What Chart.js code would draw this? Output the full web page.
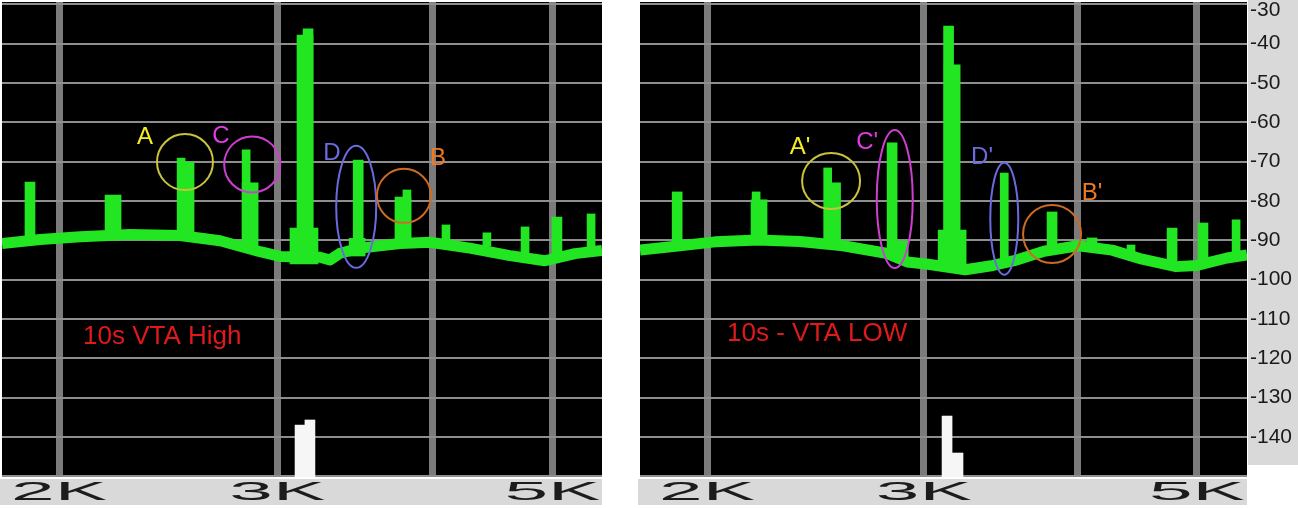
<!DOCTYPE html>
<html lang="en">
  <head>
    <meta charset="UTF-8" />
    <title>10s VTA High / 10s - VTA LOW</title>
    <script src="https://cdn.jsdelivr.net/npm/chart.js"></script>
    <style>
      body {
        margin: 0;
        background: #fff;
        width: 1298px;
        height: 508px;
        position: relative;
        overflow: hidden;
      }
      canvas {
        position: absolute;
        top: 0;
      }
      #hiChart {
        left: 0;
      }
      #loChart {
        left: 638px;
      }
    </style>
  </head>
  <body>
    <canvas id="hiChart" width="604" height="508"></canvas>
    <canvas id="loChart" width="660" height="508"></canvas>
    <script>
      // axis ticks
      const freqTicks = [2000, 3000, 4000, 5000];
      const freqLabels = ["2K", "3K", "", "5K"];
      const dbTicks = [-30, -40, -50, -60, -70, -80, -90, -100, -110, -120, -130, -140, -150];
      const dbLabels = ["-30", "-40", "-50", "-60", "-70", "-80", "-90", "-100", "-110", "-120", "-130", "-140", ""];

      // 10s VTA High (left)
      const hiFloorHz = [1799, 1931, 2080, 2282, 2504, 2697, 2905, 3015, 3247, 3308, 3370, 3499, 3767, 3983, 4289, 4621, 4931, 5213, 5482];
      const hiFloorDb = [-90.8, -89.8, -89.1, -88.5, -88.8, -90.1, -92.9, -94.1, -94.3, -95.0, -93.3, -92.0, -90.8, -90.5, -92.0, -93.9, -95.2, -93.4, -92.6];
      const hiSpikeHz = [1895, 2211, 2532, 2509, 2852, 2831, 3152, 3158, 3176, 3479, 3486, 3788, 3816, 4103, 4427, 4752, 5042, 5372];
      const hiSpikeTop = [-75.2, -78.5, -70.1, -69.1, -75.4, -67.0, -86.9, -37.8, -36.2, -89.5, -69.6, -79.0, -77.2, -86.1, -88.1, -86.6, -84.1, -83.3];
      const hiSpikeBase = [-90.0, -88.7, -88.9, -88.9, -92.0, -92.0, -96.0, -90.0, -90.0, -94.0, -92.0, -91.0, -91.0, -91.0, -91.5, -94.0, -95.0, -93.0];
      const hiSpikeKind = ["mid", "wide", "wide", "thin", "wide", "thin", "block", "wide", "mid", "wide", "mid", "wide", "thin", "thin", "thin", "thin", "mid", "thin"];
      const hiMarkHz = [3129, 3187];
      const hiMarkTop = [-137.0, -135.7];
      const hiMarkKind = ["mid", "mid"];

      // 10s - VTA LOW (right)
      const loFloorHz = [1764, 1877, 2030, 2200, 2380, 2579, 2796, 2908, 3024, 3241, 3415, 3552, 3756, 4003, 4266, 4513, 4809, 5001, 5290, 5491];
      const loFloorDb = [-92.5, -91.6, -90.4, -89.9, -90.3, -91.4, -93.3, -95.5, -96.1, -97.5, -96.4, -95.2, -92.8, -91.4, -92.5, -94.8, -96.7, -96.4, -94.5, -93.7];
      const loSpikeHz = [1891, 2204, 2192, 2529, 2506, 2870, 2827, 3163, 3163, 3142, 3487, 3813, 4109, 4420, 4773, 5057, 5380];
      const loSpikeTop = [-77.7, -79.7, -77.7, -75.4, -71.6, -90.2, -65.2, -87.4, -45.4, -35.5, -72.9, -82.8, -89.4, -91.2, -86.9, -85.6, -84.8];
      const loSpikeBase = [-91.5, -90.0, -90.0, -90.8, -90.8, -95.0, -93.0, -97.5, -90.0, -90.0, -95.0, -92.0, -92.0, -94.0, -96.0, -96.0, -94.5];
      const loSpikeKind = ["mid", "wide", "thin", "wide", "thin", "wide", "mid", "block", "wide", "mid", "thin", "mid", "mid", "thin", "mid", "mid", "thin"];
      const loMarkHz = [3133, 3180];
      const loMarkTop = [-134.7, -144.1];
      const loMarkKind = ["mid", "wide"];

      const GREEN = "#22e622";
      const barWidths = { thin: 8, mid: 10, wide: 16, block: 28 };
      const DB_MIN = -150.2;
      const DB_MAX = -29.4;

      // circled peaks, placed in Hz / dB
      const hiNotes = [
        { text: "A", labelHz: 2346, labelDb: -63.9, hz: 2527, db: -70.1, rx: 28, ry: 28, color: "#f5ef22", ring: "#c9c23c" },
        { text: "C", labelHz: 2702, labelDb: -63.6, hz: 2863, db: -70.7, rx: 28, ry: 28, color: "#e23ce2", ring: "#cf3fcf" },
        { text: "D", labelHz: 3320, labelDb: -67.8, hz: 3473, db: -81.5, rx: 20, ry: 61, color: "#6b6be0", ring: "#6b6be0" },
        { text: "B", labelHz: 4042, labelDb: -69.1, hz: 3795, db: -78.7, rx: 27, ry: 27, color: "#ee7a22", ring: "#cf6a24" },
      ];
      const loNotes = [
        { text: "A'", labelHz: 2380, labelDb: -66.3, hz: 2522, db: -74.9, rx: 29, ry: 28, color: "#f5ef22", ring: "#c9c23c" },
        { text: "C'", labelHz: 2698, labelDb: -65.2, hz: 2841, db: -79.5, rx: 18, ry: 69, color: "#e23ce2", ring: "#cf3fcf" },
        { text: "D'", labelHz: 3345, labelDb: -68.8, hz: 3487, db: -84.5, rx: 14, ry: 56, color: "#6b6be0", ring: "#6b6be0" },
        { text: "B'", labelHz: 4109, labelDb: -78.0, hz: 3813, db: -88.4, rx: 29, ry: 29, color: "#ee7a22", ring: "#cf6a24" },
      ];

      function traceDatasets(floorHz, floorDb, spikeHz, spikeTop, spikeBase, spikeKind, markHz, markTop, markKind) {
        const sets = [
          {
            type: "line",
            data: floorHz.map((f, i) => ({ x: f, y: floorDb[i] })),
            borderColor: GREEN,
            borderWidth: 11,
            borderJoinStyle: "round",
            pointRadius: 0,
            tension: 0,
            clip: 0,
          },
        ];
        Object.keys(barWidths).forEach((kind) => {
          const pts = [];
          spikeHz.forEach((f, i) => {
            if (spikeKind[i] === kind) pts.push({ x: f, y: [spikeBase[i], spikeTop[i]] });
          });
          if (pts.length)
            sets.push({ type: "bar", data: pts, backgroundColor: GREEN, barThickness: barWidths[kind], grouped: false, borderWidth: 0 });
        });
        Object.keys(barWidths).forEach((kind) => {
          const pts = [];
          markHz.forEach((f, i) => {
            if (markKind[i] === kind) pts.push({ x: f, y: [DB_MIN, markTop[i]] });
          });
          if (pts.length)
            sets.push({ type: "bar", data: pts, backgroundColor: "#f6f6f6", barThickness: barWidths[kind], grouped: false, borderWidth: 0 });
        });
        return sets;
      }

      const scopePlugin = {
        id: "scope",
        beforeDraw(chart, args, opts) {
          const { ctx, chartArea: a } = chart;
          ctx.save();
          ctx.fillStyle = "#d9d9d9";
          ctx.fillRect(a.left - 2, a.bottom + 2, a.width + 2, 26);
          if (opts.rightStrip) ctx.fillRect(a.right + 1, 0, chart.width - a.right - 1, 465);
          ctx.fillStyle = "#000";
          ctx.fillRect(a.left, a.top, a.width, a.height);
          ctx.restore();
        },
        afterDraw(chart, args, opts) {
          const { ctx, chartArea: a } = chart;
          const x = chart.scales.x;
          const y = chart.scales.y;
          ctx.save();
          // wide, squashed frequency labels
          ctx.font = '25px "Liberation Sans", Arial, sans-serif';
          ctx.fillStyle = "#1c1c1c";
          ctx.textAlign = "center";
          ctx.textBaseline = "alphabetic";
          freqTicks.forEach((v, i) => {
            const t = freqLabels[i];
            if (!t) return;
            const w = ctx.measureText(t).width;
            ctx.save();
            ctx.translate(x.getPixelForValue(v), a.bottom + 23);
            ctx.scale(96 / w, 1);
            ctx.fillText(t, 0, 0);
            ctx.restore();
          });

          // circled peaks
          ctx.lineWidth = 2;
          ctx.font = '24px "Liberation Sans", Arial, sans-serif';
          ctx.textBaseline = "middle";
          opts.notes.forEach((n) => {
            ctx.strokeStyle = n.ring;
            ctx.beginPath();
            ctx.ellipse(x.getPixelForValue(n.hz), y.getPixelForValue(n.db), n.rx, n.ry, 0, 0, Math.PI * 2);
            ctx.stroke();
            ctx.fillStyle = n.color;
            ctx.fillText(n.text, x.getPixelForValue(n.labelHz), y.getPixelForValue(n.labelDb));
          });

          // caption
          const c = opts.caption;
          ctx.font = '26px "Liberation Sans", Arial, sans-serif';
          ctx.fillStyle = "#e01a1a";
          ctx.textAlign = "left";
          ctx.fillText(c.text, x.getPixelForValue(c.hz), y.getPixelForValue(c.db));
          ctx.restore();
        },
      };

      function makeChart(id, xMin, xMax, datasets, notes, caption, withAxis) {
        return new Chart(document.getElementById(id), {
          type: "bar",
          data: { datasets: datasets },
          options: {
            responsive: false,
            animation: false,
            devicePixelRatio: 1,
            layout: { padding: { left: 2, top: 2, right: withAxis ? 0 : 2, bottom: 0 } },
            plugins: {
              legend: { display: false },
              tooltip: { enabled: false },
              scope: { notes: notes, caption: caption, rightStrip: withAxis },
            },
            scales: {
              x: {
                type: "logarithmic",
                min: xMin,
                max: xMax,
                offset: false,
                afterBuildTicks: (s) => {
                  s.ticks = freqTicks.map((v) => ({ value: v }));
                },
                afterFit: (s) => {
                  s.height = 31;
                },
                ticks: { display: false },
                grid: { color: "#7b7b7b", lineWidth: 7, drawTicks: false, offset: false },
                border: { display: false },
              },
              y: {
                type: "linear",
                position: withAxis ? "right" : "left",
                min: DB_MIN,
                max: DB_MAX,
                afterBuildTicks: (s) => {
                  s.ticks = dbTicks.map((v) => ({ value: v }));
                },
                afterFit: (s) => {
                  s.width = withAxis ? 51 : 0;
                  s.paddingTop = 0;
                  s.paddingBottom = 0;
                },
                ticks: {
                  display: withAxis,
                  padding: 3,
                  color: "#1a1a1a",
                  font: { family: '"Liberation Sans", Arial, sans-serif', size: 21, lineHeight: 0.55 },
                  // top label sits a little below its grid line, like the analyser does
                  callback: (v, i) => (i === 0 ? ["", dbLabels[i]] : dbLabels[i]),
                },
                grid: { color: "#8e8e8e", lineWidth: 2, drawTicks: false },
                border: { display: false },
              },
            },
          },
          plugins: [scopePlugin],
        });
      }

      makeChart(
        "hiChart",
        1799,
        5482,
        traceDatasets(hiFloorHz, hiFloorDb, hiSpikeHz, hiSpikeTop, hiSpikeBase, hiSpikeKind, hiMarkHz, hiMarkTop, hiMarkKind),
        hiNotes,
        { text: "10s VTA High", hz: 2091, db: -114.6 },
        false
      );

      makeChart(
        "loChart",
        1764,
        5491,
        traceDatasets(loFloorHz, loFloorDb, loSpikeHz, loSpikeTop, loSpikeBase, loSpikeKind, loMarkHz, loMarkTop, loMarkKind),
        loNotes,
        { text: "10s - VTA LOW", hz: 2076, db: -113.8 },
        true
      );
    </script>
  </body>
</html>
